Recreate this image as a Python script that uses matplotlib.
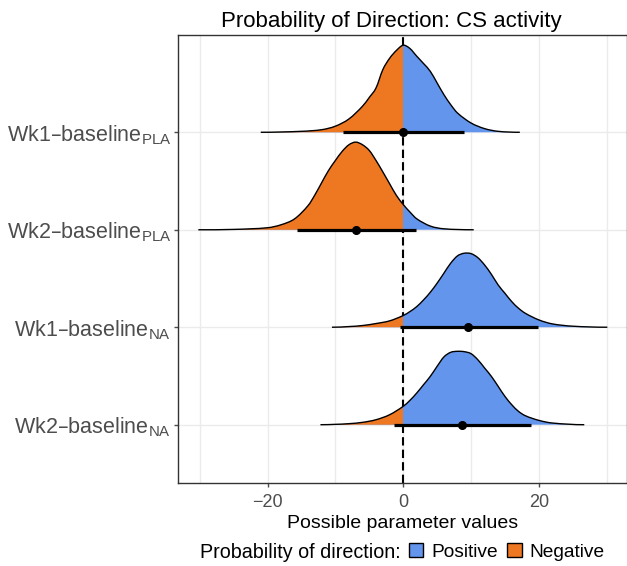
import numpy as np
import matplotlib
matplotlib.use("Agg")
import matplotlib.pyplot as plt
from matplotlib.patches import Patch, PathPatch, Rectangle
from matplotlib.path import Path

plt.rcParams["font.family"] = ["Liberation Sans", "DejaVu Sans"]
plt.rcParams["mathtext.default"] = "regular"

# rows, top to bottom
labels = [
    r"Wk1–baseline$_{PLA}$",
    r"Wk2–baseline$_{PLA}$",
    r"Wk1–baseline$_{NA}$",
    r"Wk2–baseline$_{NA}$",
]

# density outlines: x values and height relative to each peak
x_wk1_pla = [-21, -15, -12, -10, -8, -6, -5, -4, -3, -2, -1, 0, 1, 2, 3, 4, 5, 6, 7, 8, 10, 12, 14, 17.2]
h_wk1_pla = [0, 0.011, 0.03, 0.07, 0.153, 0.299, 0.40, 0.51, 0.72, 0.85, 0.94, 1.0, 0.962, 0.874, 0.79,
             0.70, 0.567, 0.433, 0.318, 0.222, 0.107, 0.042, 0.011, 0]

x_wk2_pla = [-30.2, -25, -20, -18, -16, -14, -13, -12, -11, -10, -9, -8, -7, -6, -5, -4, -3, -2, -1, 0,
             1, 2, 4, 6, 10.4]
h_wk2_pla = [0, 0.004, 0.023, 0.057, 0.125, 0.278, 0.40, 0.54, 0.677, 0.79, 0.894, 0.97, 1.0, 0.97, 0.905,
             0.79, 0.66, 0.525, 0.392, 0.289, 0.202, 0.125, 0.042, 0.011, 0]

x_wk1_na = [-10.5, -8, -6, -4, -2, 0, 1, 2, 3, 4, 5, 6, 7, 8, 9, 10, 11, 12, 13, 14, 15, 16, 17, 18,
            20, 22, 25, 30.1]
h_wk1_na = [0, 0.009, 0.023, 0.05, 0.086, 0.158, 0.212, 0.279, 0.369, 0.473, 0.595, 0.73, 0.865, 0.964,
            1.0, 0.995, 0.941, 0.842, 0.716, 0.572, 0.459, 0.347, 0.257, 0.189, 0.099, 0.045, 0.014, 0]

x_wk2_na = [-12.2, -10, -8, -6, -4, -2, 0, 1, 2, 3, 4, 5, 6, 7, 8, 9, 10, 11, 12, 13, 14, 15, 16, 17,
            18, 20, 22, 26.7]
h_wk2_na = [0, 0.005, 0.014, 0.032, 0.068, 0.136, 0.25, 0.332, 0.432, 0.545, 0.659, 0.795, 0.923, 0.986,
            1.0, 0.995, 0.968, 0.886, 0.773, 0.659, 0.523, 0.386, 0.273, 0.182, 0.123, 0.059, 0.023, 0]

curve_x = [x_wk1_pla, x_wk2_pla, x_wk1_na, x_wk2_na]
curve_h = [h_wk1_pla, h_wk2_pla, h_wk1_na, h_wk2_na]
peak = [0.893, 0.899, 0.759, 0.753]  # peak height in row units

# median and 95% interval
medians = [0.0, -7.0, 9.6, 8.7]
lower = [-8.8, -15.7, -0.5, -1.3]
upper = [8.9, 1.9, 19.9, 18.8]

col_pos = "#6495ED"
col_neg = "#EE7722"


def curve_path(x, y, y0):
    """Bezier path through the read points (Hermite tangents), closed along the baseline."""
    m = np.zeros_like(y)
    m[1:-1] = (y[2:] - y[:-2]) / (x[2:] - x[:-2])
    verts = [(x[0], y[0])]
    codes = [Path.MOVETO]
    for i in range(len(x) - 1):
        dx = (x[i + 1] - x[i]) / 3
        verts += [(x[i] + dx, y[i] + m[i] * dx),
                  (x[i + 1] - dx, y[i + 1] - m[i + 1] * dx),
                  (x[i + 1], y[i + 1])]
        codes += [Path.CURVE4] * 3
    top = Path(verts, codes)
    verts_c = verts + [(x[-1], y0), (x[0], y0), (x[0], y[0])]
    codes_c = codes + [Path.LINETO, Path.LINETO, Path.CLOSEPOLY]
    return top, Path(verts_c, codes_c)


fig = plt.figure(figsize=(6.27, 5.66), dpi=100)
ax = fig.add_axes([178 / 627, 1 - 483 / 566, 449 / 627, 448 / 566])

n = len(labels)
ypos = np.arange(n, 0, -1)

ax.axvline(0, color="black", lw=1.5, dashes=(4, 2), zorder=1.5)

for i in range(n):
    x = np.array(curve_x[i], dtype=float)
    y0 = ypos[i]
    y = y0 + np.array(curve_h[i]) * peak[i]
    top, closed = curve_path(x, y, y0)

    ax.add_patch(PathPatch(closed, facecolor=col_pos, lw=0, zorder=2))
    neg = PathPatch(closed, facecolor=col_neg, lw=0, zorder=2.1)
    ax.add_patch(neg)
    clip = Rectangle((-100, y0 - 0.5), 100, 2, transform=ax.transData, visible=False)
    ax.add_patch(clip)
    neg.set_clip_path(clip)
    ax.add_patch(PathPatch(top, facecolor="none", edgecolor="black", lw=1.0, zorder=3))

    ax.plot([lower[i], upper[i]], [y0, y0], color="black", lw=2.3, solid_capstyle="butt", zorder=4)
    ax.plot(medians[i], y0, "o", color="black", ms=5.5, zorder=5)

ax.set_xlim(-33.2, 33.0)
ax.set_ylim(0.402, 4.998)
ax.set_xticks([-20, 0, 20])
ax.set_xticks([-30, -10, 10, 30], minor=True)
ax.set_xticklabels(["\u221220", "0", "20"])
ax.set_yticks(ypos)
ax.set_yticklabels(labels)
ax.grid(True, which="both", color="#EBEBEB", lw=1.0, zorder=0)
ax.set_axisbelow(True)

ax.tick_params(axis="y", labelsize=15.5, colors="#4D4D4D", length=3, width=1, pad=2)
ax.tick_params(axis="x", labelsize=13, colors="#4D4D4D", length=3, width=1, pad=5)
ax.tick_params(which="minor", length=0)
for s in ax.spines.values():
    s.set_color("#333333")
    s.set_linewidth(1.0)

ax.set_xlabel("Possible parameter values", fontsize=14, labelpad=3)
fig.text(391 / 627, 1 - 27 / 566, "Probability of Direction: CS activity",
         fontsize=16, ha="center", va="baseline")

fig.text(200 / 627, 1 - 558 / 566, "Probability of direction:", fontsize=14.2,
         ha="left", va="baseline")
handles = [Patch(facecolor=col_pos, edgecolor="black", lw=1.0, label="Positive"),
           Patch(facecolor=col_neg, edgecolor="black", lw=1.0, label="Negative")]
fig.legend(handles=handles, loc="center left", bbox_to_anchor=(409 / 627, 1 - 552 / 566),
           ncol=2, frameon=False, fontsize=13.8, handlelength=0.75, handleheight=0.75,
           handletextpad=0.4, columnspacing=0.5, borderpad=0, borderaxespad=0)

fig.savefig("out.png", dpi=100)
